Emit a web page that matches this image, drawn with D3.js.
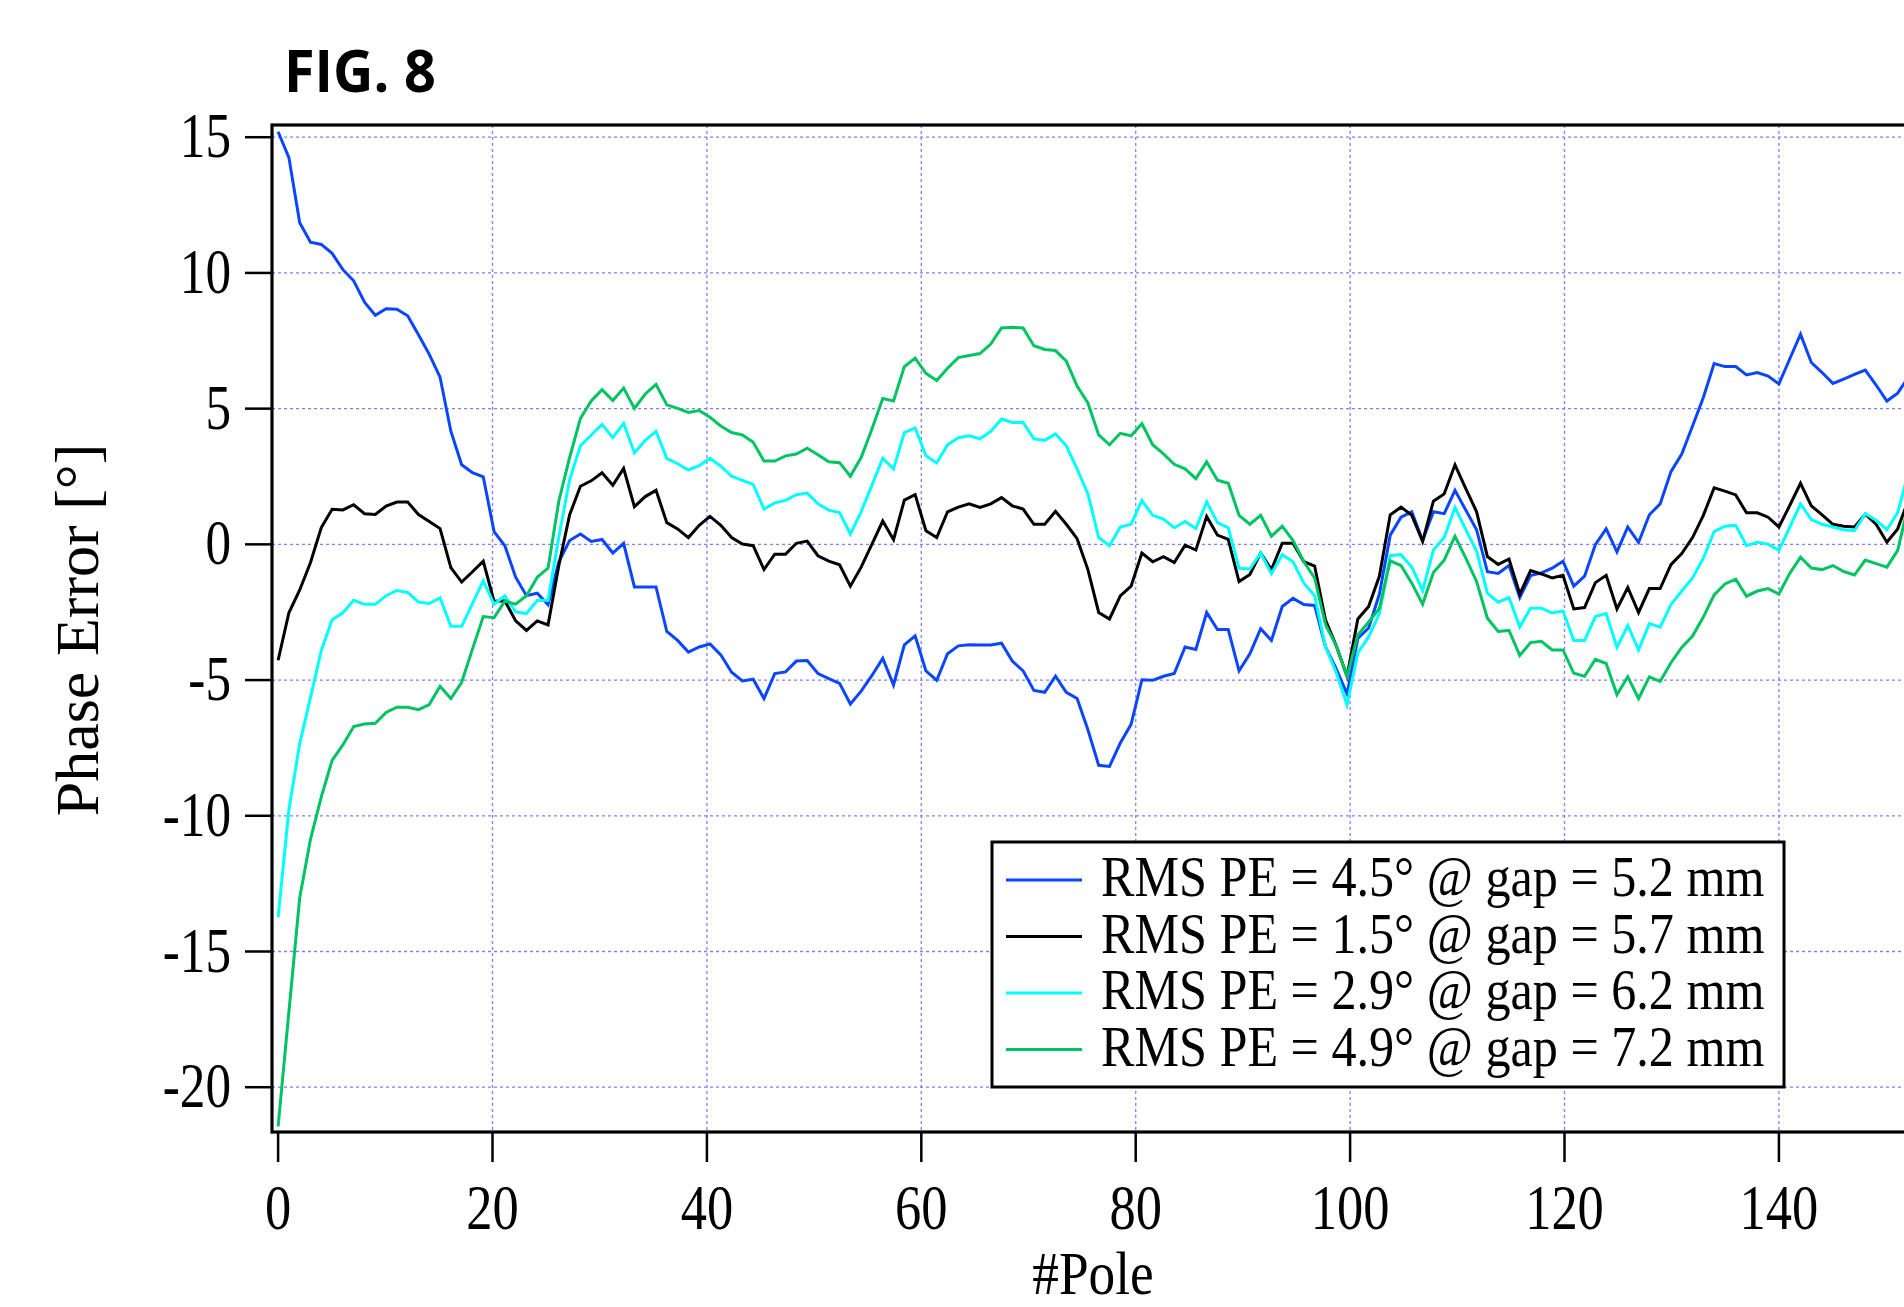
<!DOCTYPE html>
<html>
<head>
<meta charset="utf-8">
<script src="https://cdn.jsdelivr.net/npm/d3@7"></script>
<style>
  html, body { margin: 0; padding: 0; background: #ffffff; }
  svg { display: block; }
</style>
</head>
<body>
<div id="chart"></div>
<script>
// Phase error per pole for four undulator gaps
const xTicks = [0, 20, 40, 60, 80, 100, 120, 140];
const yTicks = [15, 10, 5, 0, -5, -10, -15, -20];
const poleStep = 1.0072; // spacing of the sampled positions, in poles

const rmsValues = [4.5, 1.5, 2.9, 4.9];
const gapValues = [5.2, 5.7, 6.2, 7.2];
const seriesColors = ["#0a46ff", "#000000", "#00ffff", "#00c462"];

const pe52 = [15.2,14.25,11.85,11.13,11.05,10.72,10.12,9.71,8.92,8.44,
  8.68,8.66,8.42,7.72,7.0,6.16,4.17,2.93,2.64,2.49,
  0.47,-0.05,-1.21,-1.89,-1.80,-2.22,-0.64,0.14,0.38,0.11,
  0.18,-0.32,0.04,-1.57,-1.57,-1.57,-3.21,-3.54,-3.97,-3.78,
  -3.67,-4.07,-4.71,-5.03,-4.97,-5.68,-4.76,-4.70,-4.30,-4.28,
  -4.76,-4.95,-5.12,-5.88,-5.41,-4.83,-4.20,-5.18,-3.70,-3.37,
  -4.66,-5.01,-4.03,-3.74,-3.70,-3.71,-3.71,-3.64,-4.30,-4.66,
  -5.38,-5.45,-4.86,-5.45,-5.68,-6.83,-8.14,-8.18,-7.32,-6.63,
  -4.99,-5.01,-4.86,-4.76,-3.78,-3.87,-2.51,-3.14,-3.14,-4.66,
  -4.03,-3.11,-3.54,-2.29,-1.99,-2.22,-2.25,-3.77,-4.59,-5.51,
  -3.47,-3.08,-1.83,0.34,1.0,1.20,0.14,1.20,1.13,1.99,
  1.26,0.54,-1.01,-1.07,-0.78,-1.96,-1.15,-1.05,-0.88,-0.62,
  -1.54,-1.17,-0.01,0.57,-0.28,0.64,0.07,1.09,1.49,2.68,
  3.33,4.36,5.41,6.66,6.55,6.55,6.24,6.33,6.20,5.91,
  6.83,7.74,6.70,6.33,5.93,6.09,6.26,6.42,5.87,5.28,
  5.57,6.17];

const pe57 = [-4.27,-2.52,-1.68,-0.67,0.62,1.29,1.27,1.46,1.13,1.10,
  1.41,1.56,1.56,1.10,0.84,0.58,-0.86,-1.39,-1.01,-0.62,
  -2.10,-2.08,-2.82,-3.17,-2.82,-2.97,-0.78,1.09,2.14,2.34,
  2.64,2.18,2.80,1.39,1.76,1.99,0.80,0.57,0.25,0.70,
  1.03,0.70,0.25,0.01,-0.05,-0.93,-0.36,-0.36,0.04,0.12,
  -0.42,-0.62,-0.75,-1.54,-0.84,0.01,0.86,0.17,1.63,1.83,
  0.50,0.25,1.20,1.37,1.49,1.36,1.49,1.72,1.42,1.30,
  0.74,0.74,1.22,0.74,0.21,-0.93,-2.51,-2.75,-1.90,-1.54,
  -0.32,-0.64,-0.45,-0.67,-0.03,-0.21,1.03,0.34,0.18,-1.37,
  -1.11,-0.32,-0.93,0.04,0.04,-0.64,-0.80,-2.78,-3.74,-4.86,
  -2.75,-2.29,-1.17,1.09,1.37,1.07,0.11,1.59,1.86,2.93,
  2.05,1.20,-0.45,-0.74,-0.54,-1.83,-0.97,-1.09,-1.24,-1.14,
  -2.38,-2.33,-1.41,-1.14,-2.38,-1.59,-2.51,-1.63,-1.63,-0.75,
  -0.34,0.25,1.07,2.08,1.96,1.82,1.16,1.16,1.0,0.64,
  1.43,2.25,1.42,1.09,0.74,0.67,0.64,1.11,0.74,0.08,
  0.57,1.65];

const pe62 = [-13.74,-9.78,-7.34,-5.64,-3.91,-2.78,-2.52,-2.06,-2.21,-2.21,
  -1.89,-1.70,-1.77,-2.13,-2.18,-1.97,-3.02,-3.02,-2.18,-1.34,
  -2.20,-1.90,-2.49,-2.55,-2.07,-2.07,0.28,2.38,3.63,4.03,
  4.42,3.93,4.46,3.37,3.83,4.16,3.17,2.97,2.74,2.90,
  3.17,2.88,2.51,2.36,2.21,1.30,1.53,1.62,1.83,1.89,
  1.49,1.26,1.17,0.38,1.20,2.18,3.17,2.78,4.12,4.29,
  3.26,3.0,3.67,3.93,4.0,3.89,4.16,4.62,4.49,4.49,
  3.89,3.83,4.07,3.63,2.78,1.86,0.25,-0.05,0.64,0.74,
  1.62,1.07,0.93,0.61,0.84,0.58,1.57,0.80,0.61,-0.88,
  -0.91,-0.32,-1.08,-0.38,-0.64,-1.43,-1.89,-3.77,-4.72,-5.91,
  -4.0,-3.41,-2.55,-0.41,-0.38,-0.84,-1.70,-0.21,0.25,1.36,
  0.54,-0.25,-1.80,-2.13,-1.96,-3.04,-2.35,-2.35,-2.53,-2.45,
  -3.54,-3.54,-2.66,-2.55,-3.80,-2.99,-3.89,-2.92,-3.05,-2.22,
  -1.72,-1.24,-0.51,0.47,0.67,0.70,-0.05,0.08,0.01,-0.22,
  0.63,1.49,0.91,0.74,0.64,0.54,0.50,1.13,0.89,0.54,
  1.17,2.64];

const pe72 = [-21.44,-17.22,-13.02,-10.86,-9.30,-7.96,-7.39,-6.71,-6.62,-6.59,
  -6.19,-6.0,-6.0,-6.09,-5.90,-5.23,-5.68,-5.08,-3.86,-2.66,
  -2.70,-2.09,-2.20,-1.89,-1.21,-0.88,1.60,3.20,4.64,5.28,
  5.70,5.30,5.76,5.01,5.54,5.89,5.14,5.01,4.86,4.93,
  4.68,4.36,4.12,4.03,3.76,3.07,3.07,3.26,3.33,3.54,
  3.30,3.04,3.01,2.51,3.20,4.25,5.37,5.28,6.55,6.86,
  6.30,6.04,6.49,6.88,6.96,7.03,7.38,7.97,8.0,7.97,
  7.32,7.18,7.14,6.75,5.83,5.21,4.03,3.67,4.09,4.0,
  4.45,3.67,3.33,2.95,2.78,2.42,3.04,2.36,2.25,1.07,
  0.74,1.07,0.30,0.67,0.14,-0.64,-1.24,-2.95,-3.74,-4.86,
  -3.34,-2.86,-2.36,-0.61,-0.78,-1.43,-2.20,-1.04,-0.58,0.30,
  -0.51,-1.37,-2.72,-3.21,-3.17,-4.09,-3.62,-3.57,-3.89,-3.89,
  -4.75,-4.86,-4.24,-4.39,-5.54,-4.88,-5.68,-4.88,-5.05,-4.36,
  -3.80,-3.38,-2.68,-1.86,-1.46,-1.28,-1.91,-1.72,-1.63,-1.83,
  -1.07,-0.47,-0.87,-0.93,-0.78,-1.0,-1.13,-0.58,-0.71,-0.84,
  -0.22,1.48];

const seriesValues = [pe52, pe57, pe62, pe72];
const legendLabels = rmsValues.map((r, i) =>
  `RMS PE = ${r.toFixed(1)}° @ gap = ${gapValues[i].toFixed(1)} mm`);

// ---- layout ----
const W = 1904, H = 1307;
const plotLeft = 272, plotTop = 125, plotBottom = 1132;
const plotRight = plotLeft + 153.57 * 10.72;   // frame continues past the page edge

const x = d3.scaleLinear().domain([-0.57, 153]).range([plotLeft, plotRight]);
const y = d3.scaleLinear().domain([-21.65, 15.45]).range([plotBottom, plotTop]);

const serif = "'Liberation Serif', 'Times New Roman', serif";

const svg = d3.select("#chart").append("svg")
  .attr("width", W).attr("height", H)
  .attr("viewBox", `0 0 ${W} ${H}`);

svg.append("rect").attr("width", W).attr("height", H).attr("fill", "#ffffff");

svg.append("clipPath").attr("id", "plotClip")
  .append("rect")
  .attr("x", plotLeft).attr("y", plotTop)
  .attr("width", plotRight - plotLeft).attr("height", plotBottom - plotTop);

// grid
const grid = svg.append("g").attr("stroke", "#7f7fff").attr("stroke-width", 1.3)
  .attr("stroke-dasharray", "3,3").attr("fill", "none");
grid.selectAll("line.h").data(yTicks).join("line").attr("class", "h")
  .attr("x1", plotLeft).attr("x2", plotRight)
  .attr("y1", d => y(d)).attr("y2", d => y(d));
grid.selectAll("line.v").data(xTicks.filter(d => d !== 0)).join("line").attr("class", "v")
  .attr("y1", plotTop).attr("y2", plotBottom)
  .attr("x1", d => x(d)).attr("x2", d => x(d));

// series
const line = d3.line()
  .x((d, i) => x(i * poleStep))
  .y(d => y(d));

svg.append("g").attr("clip-path", "url(#plotClip)")
  .selectAll("path").data(seriesValues).join("path")
  .attr("d", d => line(d))
  .attr("fill", "none")
  .attr("stroke", (d, i) => seriesColors[i])
  .attr("stroke-width", 3)
  .attr("stroke-linejoin", "miter");

// frame
svg.append("rect")
  .attr("x", plotLeft).attr("y", plotTop)
  .attr("width", plotRight - plotLeft).attr("height", plotBottom - plotTop)
  .attr("fill", "none").attr("stroke", "#000").attr("stroke-width", 3.2);

// y axis ticks and labels
const yAxis = svg.append("g");
yAxis.selectAll("line").data(yTicks).join("line")
  .attr("x1", plotLeft - 27).attr("x2", plotLeft)
  .attr("y1", d => y(d)).attr("y2", d => y(d))
  .attr("stroke", "#000").attr("stroke-width", 2.5);
yAxis.selectAll("text").data(yTicks).join("text")
  .attr("transform", d => `translate(${plotLeft - 41},${y(d) + 20}) scale(0.8,1)`)
  .attr("text-anchor", "end")
  .attr("font-family", serif).attr("font-size", 64)
  .text(d => d);

// x axis ticks and labels
const xAxis = svg.append("g");
xAxis.selectAll("line").data(xTicks).join("line")
  .attr("x1", d => x(d)).attr("x2", d => x(d))
  .attr("y1", plotBottom).attr("y2", plotBottom + 30)
  .attr("stroke", "#000").attr("stroke-width", 2.5);
xAxis.selectAll("text").data(xTicks).join("text")
  .attr("transform", d => `translate(${x(d)},${plotBottom + 97}) scale(0.82,1)`)
  .attr("text-anchor", "middle")
  .attr("font-family", serif).attr("font-size", 64)
  .text(d => d);

// axis titles
svg.append("text")
  .attr("transform", `translate(1093,1294) scale(0.86,1)`)
  .attr("text-anchor", "middle")
  .attr("font-family", serif).attr("font-size", 62)
  .text("#Pole");

svg.append("text")
  .attr("transform", `translate(98,630) rotate(-90)`)
  .attr("text-anchor", "middle")
  .attr("font-family", serif).attr("font-size", 62)
  .text("Phase Error [°]");

// figure label
svg.append("text")
  .attr("transform", "translate(284,92) scale(0.93,1)")
  .attr("font-family", "'Open Sans', 'Noto Sans', sans-serif")
  .attr("font-weight", 700).attr("font-size", 60)
  .text("FIG. 8");

// legend
const lg = svg.append("g");
lg.append("rect")
  .attr("x", 992).attr("y", 842).attr("width", 792).attr("height", 245)
  .attr("fill", "#ffffff").attr("stroke", "#000").attr("stroke-width", 3);
const rows = lg.selectAll("g.row").data(legendLabels).join("g").attr("class", "row")
  .attr("transform", (d, i) => `translate(0,${880 + i * 56.5})`);
rows.append("line")
  .attr("x1", 1006).attr("x2", 1082).attr("y1", 0).attr("y2", 0)
  .attr("stroke", (d, i) => seriesColors[i]).attr("stroke-width", 3);
rows.append("text")
  .attr("transform", "translate(1101,16) scale(0.865,1)")
  .attr("font-family", serif).attr("font-size", 58)
  .text(d => d);
</script>
</body>
</html>
